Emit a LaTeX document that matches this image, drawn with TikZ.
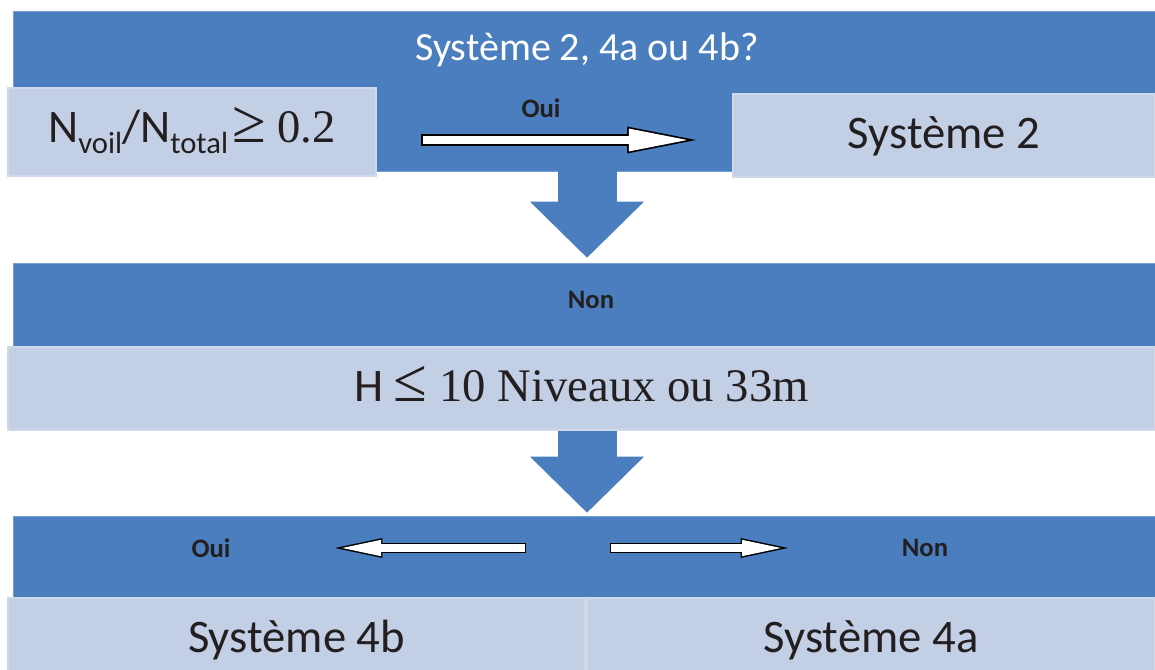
\documentclass[tikz,border=0pt]{standalone}
\usepackage{fontspec}
\setmainfont{Carlito}
\newfontfamily\timesfont{Liberation Serif}
\usepackage{xcolor}
\usetikzlibrary{arrows.meta}

\definecolor{bandblue}{RGB}{74,126,191}
\definecolor{palefill}{RGB}{195,207,229}
\definecolor{paleedge}{RGB}{208,217,234}
\definecolor{ink}{RGB}{35,31,32}
\newcommand{\lowtext}[1]{\raisebox{-8pt}{\fontsize{23}{23}\selectfont #1}}
\newcommand{\relsign}[1]{{\fontsize{46}{46}\selectfont #1}}

\begin{document}
\begin{tikzpicture}[
  x=0.75pt, y=-0.75pt,
  font=\fontsize{35}{40}\selectfont, text=ink,
  band/.style={fill=bandblue, draw=bandblue!75!white, line width=0.5pt,
               minimum width=856.5pt, inner sep=0pt},
  pale/.style={fill=palefill, draw=paleedge, line width=1.5pt, inner sep=0pt,
               text height=22.5pt, text depth=2.5pt},
  tag/.style={font=\fontsize{20}{24}\selectfont\bfseries},
  flow/.style={bandblue, line width=44.25pt,
               -{Triangle[length=42pt, width=85.5pt, line width=0pt]}},
  rim/.style={black, line width=9pt,
              -{Triangle[length=51.75pt, width=20.25pt, line width=0pt]}},
  core/.style={white, line width=6.45pt, shorten <=1.3pt, shorten >=6.6pt,
               -{Triangle[length=43.8pt, width=17.2pt, line width=0pt]}},
  rimsmall/.style={black, line width=7.5pt,
                   -{Triangle[length=35.6pt, width=15pt, line width=0pt]}},
  coresmall/.style={white, line width=5.3pt, shorten <=1.1pt, shorten >=5.35pt,
                    -{Triangle[length=29.15pt, width=12.3pt, line width=0pt]}}
]
\useasboundingbox (0,0) rectangle (1155,670);

% blue bands
\node[band, minimum height=120pt] (top) at (584,91) {};
\node[band, minimum height=63pt] (mid) at (584,305) {};
\node[band, minimum height=60.75pt] (low) at (584,556.5) {};

% boxes
\node[pale, minimum width=276pt, minimum height=66pt, text depth=6pt] (ratio) at (192,132)
     {N\lowtext{voil}/N\lowtext{total}\hspace{3pt}{\timesfont\relsign{≥} 0.2}};
\node[pale, minimum width=316.5pt, minimum height=62.25pt] (sys2) at (944,135.5) {Système 2};
\node[pale, minimum width=860.25pt, minimum height=62.25pt] (height) at (581.5,388.5)
     {H {\timesfont\relsign{≤} 10 Niveaux ou 33m}};
\node[pale, minimum width=432.75pt, minimum height=61.5pt] (sys4b) at (296.5,639) {Système 4b};
\node[pale, minimum width=426pt, minimum height=61.5pt] (sys4a) at (871,639) {Système 4a};

\node[font=\fontsize{30}{34}\selectfont, text=white] (question) at (587,50) {Système 2, 4a ou 4b?};
\node[tag] (yes1) at (541,108) {Oui};
\node[tag] (no1) at (591,300) {Non};
\node[tag] (yes2) at (211,548) {Oui};
\node[tag] (no2) at (925,548) {Non};

% block arrows down
\draw[flow, shorten >=3.75pt] (top.south -| question) -- (mid.north -| question);
\draw[flow, shorten >=2.25pt] (height.south -| question) -- (low.north -| question);

% hollow arrows
\coordinate (ouistart) at ([xshift=33pt, yshift=-6pt]ratio.east);
\coordinate (ouiend) at (ouistart -| sys2.west);
\draw[rim] (ouistart) -- ([xshift=-27pt]ouiend);
\draw[core] (ouistart) -- ([xshift=-27pt]ouiend);

\coordinate (fork) at (568,548);
\draw[rimsmall] ([xshift=-31.5pt]fork) -- ([xshift=93pt]yes2.center);
\draw[coresmall] ([xshift=-31.5pt]fork) -- ([xshift=93pt]yes2.center);
\draw[rimsmall] ([xshift=31.5pt]fork) -- ([xshift=-102.75pt]no2.center);
\draw[coresmall] ([xshift=31.5pt]fork) -- ([xshift=-102.75pt]no2.center);
\end{tikzpicture}
\end{document}
